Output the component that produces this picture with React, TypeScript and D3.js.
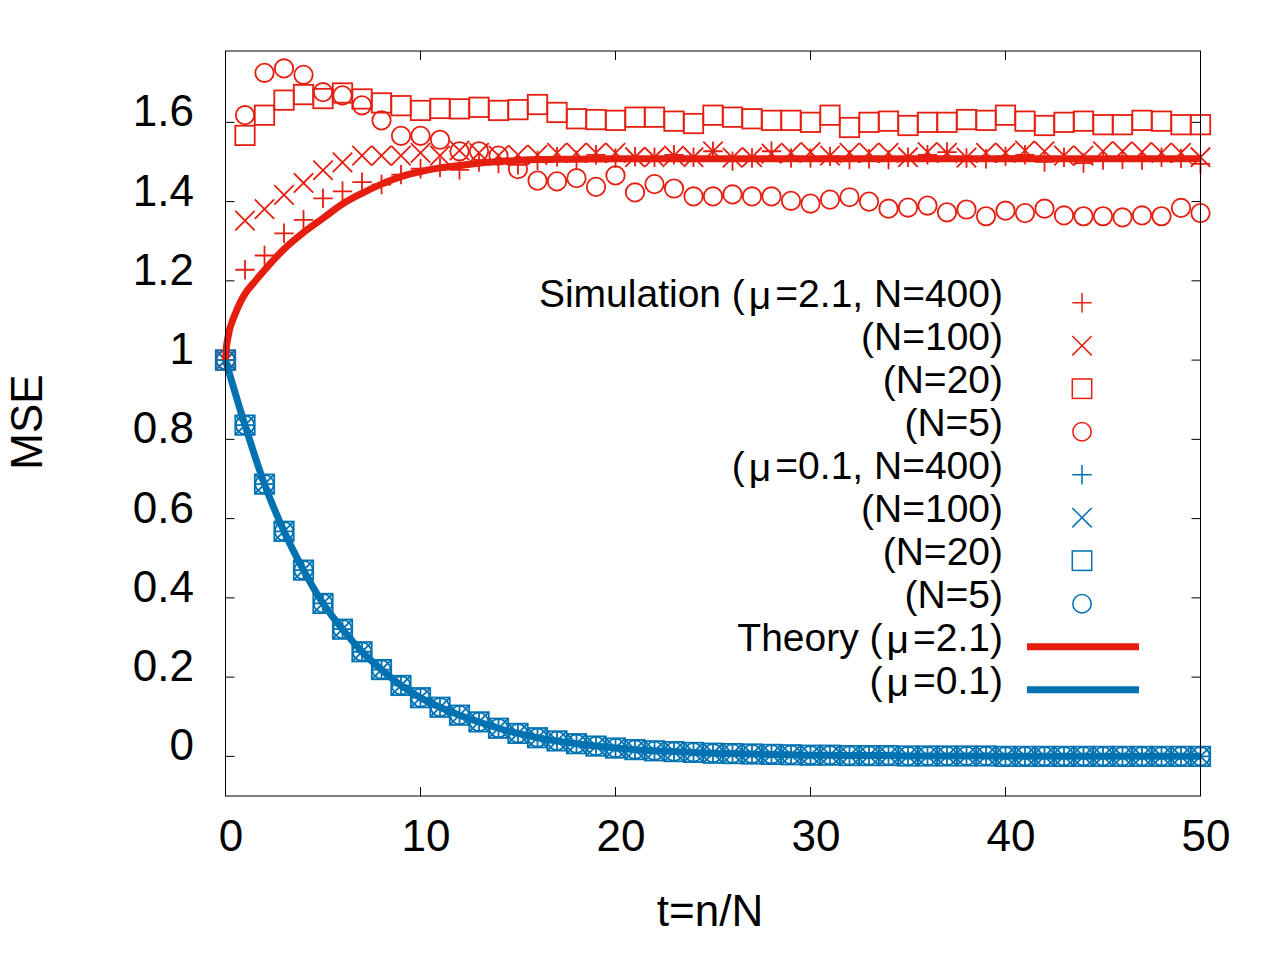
import { scaleLinear, line, curveMonotoneX, range } from "d3";

const RED = "#e51e10";
const BLUE = "#0072b2";
const FONT = "'Liberation Sans', Arial, Helvetica, sans-serif";

// sample times t = n/N for the simulation points
const tSteps = range(0, 51);

// mu = 2.1
const redN400 = [
  1.0, 1.228, 1.264, 1.32, 1.354, 1.408, 1.426, 1.449, 1.443, 1.468, 1.483,
  1.486, 1.48, 1.5, 1.496, 1.493, 1.504, 1.513, 1.504, 1.518, 1.51, 1.513,
  1.512, 1.518, 1.512, 1.527, 1.502, 1.51, 1.527, 1.51, 1.51, 1.514, 1.506,
  1.508, 1.506, 1.512, 1.518, 1.525, 1.51, 1.508, 1.514, 1.518, 1.5, 1.512,
  1.497, 1.505, 1.507, 1.505, 1.512, 1.509, 1.495,
];
const redN100 = [
  1.0, 1.352, 1.381, 1.417, 1.447, 1.479, 1.499, 1.516, 1.516, 1.516, 1.523,
  1.516, 1.529, 1.523, 1.516, 1.518, 1.518, 1.523, 1.523, 1.523, 1.523, 1.512,
  1.512, 1.516, 1.512, 1.527, 1.511, 1.512, 1.521, 1.523, 1.525, 1.516, 1.523,
  1.523, 1.523, 1.512, 1.525, 1.523, 1.511, 1.523, 1.523, 1.529, 1.527, 1.516,
  1.516, 1.527, 1.527, 1.525, 1.523, 1.523, 1.512,
];
const redN20 = [
  1.0, 1.567, 1.618, 1.656, 1.67, 1.66, 1.674, 1.659, 1.649, 1.642, 1.63,
  1.635, 1.634, 1.638, 1.63, 1.632, 1.645, 1.625, 1.609, 1.607, 1.605, 1.613,
  1.613, 1.603, 1.597, 1.618, 1.613, 1.609, 1.605, 1.605, 1.6, 1.618, 1.587,
  1.6, 1.603, 1.592, 1.6, 1.6, 1.607, 1.605, 1.618, 1.603, 1.592, 1.6, 1.603,
  1.594, 1.594, 1.605, 1.603, 1.594, 1.594,
];
const redN5 = [
  1.0, 1.618, 1.725, 1.736, 1.72, 1.676, 1.668, 1.643, 1.605, 1.566, 1.566,
  1.556, 1.527, 1.527, 1.516, 1.482, 1.453, 1.451, 1.459, 1.437, 1.466, 1.423,
  1.444, 1.433, 1.413, 1.413, 1.418, 1.413, 1.413, 1.402, 1.395, 1.405, 1.411,
  1.4, 1.382, 1.385, 1.39, 1.373, 1.38, 1.363, 1.377, 1.371, 1.382, 1.365,
  1.363, 1.363, 1.36, 1.365, 1.363, 1.384, 1.371,
];

// mu = 0.1 (all four N overlap)
const blueSim = [
  1.0, 0.836, 0.687, 0.568, 0.47, 0.386, 0.321, 0.264, 0.219, 0.179, 0.148,
  0.124, 0.104, 0.087, 0.071, 0.058, 0.047, 0.039, 0.032, 0.026, 0.021, 0.017,
  0.014, 0.012, 0.01, 0.008, 0.007, 0.006, 0.005, 0.004, 0.003, 0.003, 0.002,
  0.002, 0.002, 0.001, 0.001, 0.001, 0.001, 0.001, 0.0, 0.0, 0.0, 0.0, 0.0,
  0.0, 0.0, 0.0, 0.0, 0.0, 0.0,
];
const blueN400 = blueSim;
const blueN100 = blueSim;
const blueN20 = blueSim;
const blueN5 = blueSim;

// theory curves
const theoryRedT = [
  0, 0.05, 0.1, 0.2, 0.35, 0.5, 0.75, 1, 1.5, 2, 3, 4, 5, 6, 7, 8, 9, 10, 11,
  12, 13, 14, 15, 16, 18, 20, 25, 30, 35, 40, 45, 50,
];
const theoryRed = [
  1.0, 1.035, 1.05, 1.075, 1.098, 1.117, 1.145, 1.167, 1.198, 1.227, 1.28,
  1.322, 1.358, 1.394, 1.421, 1.444, 1.463, 1.476, 1.485, 1.491, 1.497, 1.501,
  1.504, 1.506, 1.507, 1.508, 1.508, 1.508, 1.508, 1.508, 1.508, 1.508,
];
const theoryBlueT = tSteps;
const theoryBlue = blueSim;

const yTicks = [0, 0.2, 0.4, 0.6, 0.8, 1, 1.2, 1.4, 1.6];
const xTicks = [0, 10, 20, 30, 40, 50];

type Kind = "plus" | "cross" | "square" | "circle";

// labels are split around the Greek letter: [before, after] (no Greek when after is undefined)
const simSeries: { label: [string, string?]; values: number[]; color: string; kind: Kind }[] = [
  { label: ["Simulation (", "=2.1, N=400)"], values: redN400, color: RED, kind: "plus" },
  { label: ["(N=100)"], values: redN100, color: RED, kind: "cross" },
  { label: ["(N=20)"], values: redN20, color: RED, kind: "square" },
  { label: ["(N=5)"], values: redN5, color: RED, kind: "circle" },
  { label: ["(", "=0.1, N=400)"], values: blueN400, color: BLUE, kind: "plus" },
  { label: ["(N=100)"], values: blueN100, color: BLUE, kind: "cross" },
  { label: ["(N=20)"], values: blueN20, color: BLUE, kind: "square" },
  { label: ["(N=5)"], values: blueN5, color: BLUE, kind: "circle" },
];
const theorySeries: { label: [string, string?]; t: number[]; values: number[]; color: string }[] = [
  { label: ["Theory (", "=2.1)"], t: theoryRedT, values: theoryRed, color: RED },
  { label: ["(", "=0.1)"], t: theoryBlueT, values: theoryBlue, color: BLUE },
];

const left = 225.5;
const right = 1200.5;
const top = 51;
const bottom = 796;

const x = scaleLinear().domain([0, 50]).range([left, right]);
const y = scaleLinear().domain([-0.1, 1.78]).range([bottom, top]);

const Marker = ({ kind, cx, cy, color, sw }: { kind: Kind; cx: number; cy: number; color: string; sw: number }) => {
  const s = 9.7;
  if (kind === "circle")
    return <circle cx={cx} cy={cy} r={9.2} fill="none" stroke={color} strokeWidth={sw} />;
  if (kind === "square")
    return <rect x={cx - s} y={cy - s} width={2 * s} height={2 * s} fill="none" stroke={color} strokeWidth={sw} />;
  const d =
    kind === "plus"
      ? `M${cx - s},${cy}H${cx + s}M${cx},${cy - s}V${cy + s}`
      : `M${cx - s},${cy - s}L${cx + s},${cy + s}M${cx - s},${cy + s}L${cx + s},${cy - s}`;
  return <path d={d} fill="none" stroke={color} strokeWidth={sw} />;
};

const Label = ({ parts, x0, y0 }: { parts: [string, string?]; x0: number; y0: number }) => (
  <text x={x0} y={y0} textAnchor="end" fontSize={39} fill="#000">
    {parts[1] === undefined ? (
      parts[0]
    ) : (
      <>
        {parts[0]}
        <tspan dx={4} dy={2}>μ</tspan>
        <tspan dx={4} dy={-2}>{parts[1]}</tspan>
      </>
    )}
  </text>
);

const App = () => {
  const tickLen = 9;
  const legendX = 1003;
  const legendMarkX = 1082;
  const legendY0 = 302.7;
  const legendDy = 43;

  return (
    <div style={{ position: "absolute", left: 0, top: 0 }}>
      <svg width={1280} height={960} style={{ display: "block", background: "#fff" }} fontFamily={FONT}>
        {/* ticks */}
        {yTicks.map((v) => (
          <g key={"y" + v}>
            <line x1={left} x2={left + tickLen} y1={y(v)} y2={y(v)} stroke="#000" strokeWidth={1} />
            <line x1={right} x2={right - tickLen} y1={y(v)} y2={y(v)} stroke="#000" strokeWidth={1} />
            <text x={194} y={y(v) + 4} textAnchor="end" fontSize={44} fill="#000">
              {String(v)}
            </text>
          </g>
        ))}
        {xTicks.map((v) => (
          <g key={"x" + v}>
            <line x1={x(v)} x2={x(v)} y1={bottom} y2={bottom - tickLen} stroke="#000" strokeWidth={1} />
            <line x1={x(v)} x2={x(v)} y1={top} y2={top + tickLen} stroke="#000" strokeWidth={1} />
            <text x={x(v) + 5.5} y={851} textAnchor="middle" fontSize={44} fill="#000">
              {String(v)}
            </text>
          </g>
        ))}

        {/* simulation markers */}
        {simSeries.map((s, i) => (
          <g key={"s" + i}>
            {s.values.map((v, j) => (
              <Marker key={j} kind={s.kind} cx={x(tSteps[j])} cy={y(v)} color={s.color} sw={1.8} />
            ))}
          </g>
        ))}

        {/* theory lines */}
        {theorySeries.map((s, i) => {
          const path = line<number>()
            .x((_, j) => x(s.t[j]))
            .y((v) => y(v))
            .curve(curveMonotoneX)(s.values);
          return <path key={"t" + i} d={path ?? ""} fill="none" stroke={s.color} strokeWidth={7} />;
        })}

        {/* frame */}
        <rect x={left} y={top} width={right - left} height={bottom - top} fill="none" stroke="#000" strokeWidth={1} />

        {/* legend */}
        {simSeries.map((s, i) => {
          const ly = legendY0 + i * legendDy;
          return (
            <g key={"l" + i}>
              <Label parts={s.label} x0={legendX} y0={ly + 4.3} />
              <Marker kind={s.kind} cx={legendMarkX} cy={ly} color={s.color} sw={1.5} />
            </g>
          );
        })}
        {theorySeries.map((s, i) => {
          const ly = legendY0 + (simSeries.length + i) * legendDy;
          return (
            <g key={"lt" + i}>
              <Label parts={s.label} x0={legendX} y0={ly + 4.3} />
              <line x1={1027} x2={1139} y1={ly} y2={ly} stroke={s.color} strokeWidth={7} />
            </g>
          );
        })}

        {/* axis labels */}
        <text x={710} y={926} textAnchor="middle" fontSize={44} fill="#000">
          t=n/N
        </text>
        <text transform="translate(42,422) rotate(-90)" textAnchor="middle" fontSize={44} fill="#000">
          MSE
        </text>
      </svg>
    </div>
  );
};

export default App;
